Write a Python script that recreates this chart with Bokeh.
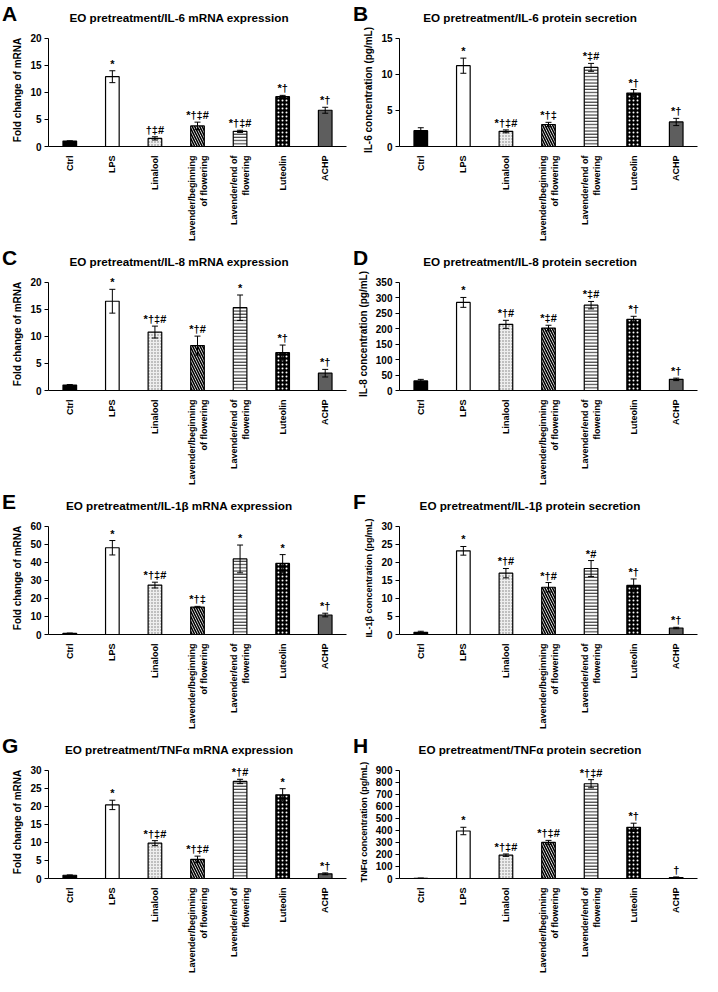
import math
from bokeh.plotting import figure
from bokeh.layouts import column, row
from bokeh.models import (ColumnDataSource, Whisker, TeeHead, LabelSet, Div,
                          Range1d, FactorRange, SingleIntervalTicker)
from bokeh.core.properties import value
from bokeh.embed import file_html
from bokeh.resources import INLINE

FONT = "Liberation Sans"

categories = ["Ctrl", "LPS", "Linalool", "Lavender/beginning\nof flowering",
              "Lavender/end of\nflowering", "Luteolin", "ACHP"]

# A: IL-6 mRNA
il6_mrna_mean = [1.0, 12.9, 1.5, 3.8, 2.8, 9.2, 6.7]
il6_mrna_err = [0.05, 1.1, 0.3, 0.7, 0.2, 0.25, 0.55]
il6_mrna_sig = ["", "*", "†‡#", "*†‡#", "*†‡#", "*†", "*†"]
# B: IL-6 protein
il6_prot_mean = [2.2, 11.2, 2.1, 3.05, 10.97, 7.4, 3.4]
il6_prot_err = [0.4, 1.05, 0.2, 0.3, 0.55, 0.5, 0.5]
il6_prot_sig = ["", "*", "*†‡#", "*†‡", "*‡#", "*†", "*†"]
# C: IL-8 mRNA
il8_mrna_mean = [1.0, 16.5, 10.8, 8.3, 15.3, 7.0, 3.2]
il8_mrna_err = [0.1, 2.2, 1.1, 1.75, 2.35, 1.4, 0.7]
il8_mrna_sig = ["", "*", "*†‡#", "*†#", "*", "*†", "*†"]
# D: IL-8 protein
il8_prot_mean = [31, 285, 214, 202, 276, 230, 36]
il8_prot_err = [5, 16, 13, 9, 12, 10, 4]
il8_prot_sig = ["", "*", "*†#", "*‡#", "*‡#", "*†", "*†"]
# E: IL-1beta mRNA
il1b_mrna_mean = [0.6, 48.1, 27.4, 15.2, 41.9, 39.4, 10.8]
il1b_mrna_err = [0.2, 4.0, 1.6, 0.4, 7.7, 4.9, 1.0]
il1b_mrna_sig = ["", "*", "*†‡#", "*†‡", "*", "*", "*†"]
# F: IL-1beta protein
il1b_prot_mean = [0.6, 23.2, 17.0, 13.1, 18.3, 13.6, 1.8]
il1b_prot_err = [0.3, 1.2, 1.3, 1.3, 2.2, 1.8, 0.2]
il1b_prot_sig = ["", "*", "*†#", "*†#", "*#", "*†", "*†"]
# G: TNFa mRNA
tnfa_mrna_mean = [0.9, 20.4, 9.8, 5.3, 26.9, 23.2, 1.3]
tnfa_mrna_err = [0.1, 1.3, 0.7, 0.9, 0.6, 1.7, 0.25]
tnfa_mrna_sig = ["", "*", "*†‡#", "*†‡#", "*†#", "*", "*†"]
# H: TNFa protein
tnfa_prot_mean = [2, 395, 194, 301, 788, 426, 8]
tnfa_prot_err = [1, 31, 10, 16, 34, 34, 5]
tnfa_prot_sig = ["", "*", "*†‡#", "*†‡#", "*†‡#", "*†", "†"]

panel_letters = ["A", "B", "C", "D", "E", "F", "G", "H"]
panel_titles = ["EO pretreatment/IL-6 mRNA expression",
                "EO pretreatment/IL-6 protein secretion",
                "EO pretreatment/IL-8 mRNA expression",
                "EO pretreatment/IL-8 protein secretion",
                "EO pretreatment/IL-1β mRNA expression",
                "EO pretreatment/IL-1β protein secretion",
                "EO pretreatment/TNFα mRNA expression",
                "EO pretreatment/TNFα protein secretion"]
y_labels = ["Fold change of mRNA", "IL-6 concentration (pg/mL)",
            "Fold change of mRNA", "IL-8 concentration (pg/mL)",
            "Fold change of mRNA", "IL-1β concentration (pg/mL)",
            "Fold change of mRNA", "TNFα concentration (pg/mL)"]
y_label_sizes = ["10px", "10px", "10px", "10px", "10px", "9px", "10px", "9px"]
y_max = [20, 15, 20, 350, 60, 30, 30, 900]
y_step = [5, 5, 5, 50, 10, 5, 5, 100]

means = [il6_mrna_mean, il6_prot_mean, il8_mrna_mean, il8_prot_mean,
         il1b_mrna_mean, il1b_prot_mean, tnfa_mrna_mean, tnfa_prot_mean]
errs = [il6_mrna_err, il6_prot_err, il8_mrna_err, il8_prot_err,
        il1b_mrna_err, il1b_prot_err, tnfa_mrna_err, tnfa_prot_err]
sigs = [il6_mrna_sig, il6_prot_sig, il8_mrna_sig, il8_prot_sig,
        il1b_mrna_sig, il1b_prot_sig, tnfa_mrna_sig, tnfa_prot_sig]

bar_styles = [
    dict(fill_color="black"),
    dict(fill_color="white"),
    dict(fill_color="#eeeeee", hatch_pattern="dot", hatch_color="#777777",
         hatch_scale=3, hatch_weight=1),
    dict(fill_color="white", hatch_pattern="left_diagonal_line",
         hatch_color="black", hatch_scale=5, hatch_weight=1.6),
    dict(fill_color="white", hatch_pattern="horizontal_line",
         hatch_color="#333333", hatch_scale=3.2, hatch_weight=1.1),
    dict(fill_color="black", hatch_pattern="dot", hatch_color="white",
         hatch_scale=4, hatch_weight=2),
    dict(fill_color="#5e5e5e"),
]

PANEL_W = 351
HEAD_H = 26
AXIS_H, EXT = 113, 5
BL, BR, BT, BB = 48, 5, 7, 93
FRAME_W = PANEL_W - BL - BR


def make_header(i):
    html = (
        f'<div style="position:relative;width:{PANEL_W}px;height:{HEAD_H}px;'
        f'font-family:\'{FONT}\';font-weight:bold;color:black;">'
        f'<span style="position:absolute;left:2px;top:2px;font-size:21px;'
        f'line-height:normal;">{panel_letters[i]}</span>'
        f'<span style="position:absolute;left:179px;top:11px;'
        f'transform:translateX(-50%);white-space:nowrap;font-size:11.7px;'
        f'line-height:normal;">{panel_titles[i]}</span></div>')
    return Div(text=html, width=PANEL_W, height=HEAD_H, margin=0,
               styles={"overflow": "visible"})


def make_panel(i):
    top_val = y_max[i] * (AXIS_H + EXT) / AXIS_H
    p = figure(x_range=FactorRange(factors=categories),
               y_range=Range1d(0, top_val),
               width=PANEL_W, height=BT + AXIS_H + EXT + BB,
               min_border_left=BL, min_border_right=BR,
               min_border_top=BT, min_border_bottom=BB,
               output_backend="svg", toolbar_location=None,
               outline_line_color=None, background_fill_color="white")
    src = ColumnDataSource(dict(
        x=categories, top=means[i],
        upper=[m + e for m, e in zip(means[i], errs[i])],
        lower=[m - e for m, e in zip(means[i], errs[i])],
        sig=sigs[i]))
    for k, cat in enumerate(categories):
        p.vbar(x=[cat], top=[means[i][k]], width=0.32, line_color="black",
               line_width=1.2, **bar_styles[k])
    w = Whisker(source=src, base="x", upper="upper", lower="lower",
                line_color="black", line_width=1, level="annotation",
                upper_head=TeeHead(size=6, line_color="black", line_width=1),
                lower_head=TeeHead(size=6, line_color="black", line_width=1))
    p.add_layout(w)
    p.add_layout(LabelSet(source=src, x="x", y="upper", text="sig",
                          text_align="center", text_baseline="alphabetic",
                          y_offset=3, text_font=value(FONT),
                          text_font_style="bold", text_font_size="11px",
                          text_color="black"))
    p.xgrid.visible = False
    p.ygrid.visible = False
    p.yaxis.ticker = SingleIntervalTicker(interval=y_step[i])
    p.yaxis.bounds = (0, y_max[i])
    p.yaxis.axis_label = y_labels[i]
    p.yaxis.minor_tick_line_color = None
    p.yaxis.major_tick_in = 0
    p.yaxis.major_tick_out = 4
    p.yaxis.major_label_standoff = 3
    p.yaxis.axis_label_standoff = 4
    p.xaxis.major_tick_line_color = None
    p.xaxis.major_label_orientation = math.pi / 2
    p.xaxis.major_label_standoff = 3
    for ax in (p.xaxis, p.yaxis):
        ax.axis_line_color = "black"
        ax.axis_line_width = 1
        ax.major_label_text_font = FONT
        ax.major_label_text_font_style = "bold"
        ax.major_label_text_color = "black"
        ax.axis_label_text_font = FONT
        ax.axis_label_text_font_style = "bold"
        ax.axis_label_text_color = "black"
    p.yaxis.axis_label_text_font_size = y_label_sizes[i]
    p.yaxis.major_tick_line_color = "black"
    p.yaxis.major_label_text_font_size = "10px"
    p.xaxis.major_label_text_font_size = "9px"
    return p


cells = [column(make_header(i), make_panel(i), spacing=0) for i in range(8)]
page = column(*[row(cells[2 * r], cells[2 * r + 1], spacing=0)
                for r in range(4)], spacing=0)

open("out.html", "w").write(file_html(page, INLINE))
